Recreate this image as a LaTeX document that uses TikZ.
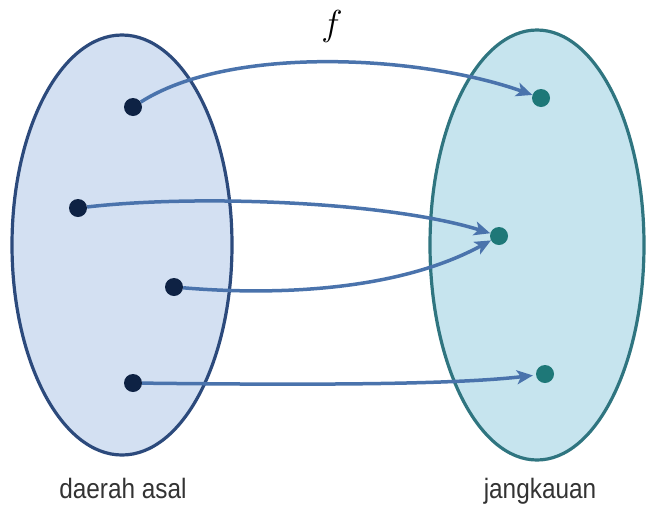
\documentclass[tikz,border=0pt]{standalone}
\usepackage{fontspec}
\setsansfont{Liberation Sans}
\usetikzlibrary{shapes.geometric,arrows.meta}
\definecolor{dfill}{HTML}{D3E0F2}
\definecolor{dline}{HTML}{2C4A7C}
\definecolor{rfill}{HTML}{C6E4EE}
\definecolor{rline}{HTML}{2F7580}
\definecolor{ddot}{HTML}{0E2244}
\definecolor{rdot}{HTML}{1E7878}
\definecolor{arr}{HTML}{4A73AC}
\definecolor{lbl}{HTML}{333333}
\tikzset{
  setbox/.style={ellipse, line width=3.2pt, inner sep=0pt},
  domdot/.style={circle, fill=ddot, inner sep=0pt, minimum size=18pt},
  randot/.style={circle, fill=rdot, inner sep=0pt, minimum size=18pt},
  maparrow/.style={draw=arr, line width=3.5pt, -{Stealth[length=16pt,width=14pt,inset=4pt]}},
  setlabel/.style={font=\sffamily\fontsize{28}{28}\selectfont, text=lbl, anchor=base, inner sep=0pt, xscale=0.87}
}
\begin{document}
\begin{tikzpicture}[x=1pt,y=-1pt]
\useasboundingbox (0,0) rectangle (650,504);
\node[setbox, draw=dline, fill=dfill, minimum width=220pt, minimum height=420pt] (dom) at (122,245) {};
\node[setbox, draw=rline, fill=rfill, minimum width=214pt, minimum height=430pt] (ran) at (537,245) {};
\node[domdot] (a1) at (133,107) {};
\node[domdot] (a2) at (78,208) {};
\node[domdot] (a3) at (174,287) {};
\node[domdot] (a4) at (133,383) {};
\node[randot] (b1) at (541,98) {};
\node[randot] (b2) at (499,236) {};
\node[randot] (b3) at (545,374) {};
\draw[maparrow] (a1) .. controls (230,45) and (420,55) .. (b1);
\draw[maparrow] (a2) .. controls (200,194) and (390,202) .. (b2);
\draw[maparrow] (a3) .. controls (280,296) and (400,290) .. (b2);
\draw[maparrow, shorten >=3pt] (a4) .. controls (300,385) and (450,385) .. (b3);
\node[anchor=base, inner sep=0pt, font=\fontsize{24.88}{24}\selectfont] (f) at (332,35) {\scalebox{1.45}{$f$}};
\node[setlabel] (ldom) at (123,498) {daerah asal};
\node[setlabel] (lran) at (540,498) {jangkauan};
\end{tikzpicture}
\end{document}
